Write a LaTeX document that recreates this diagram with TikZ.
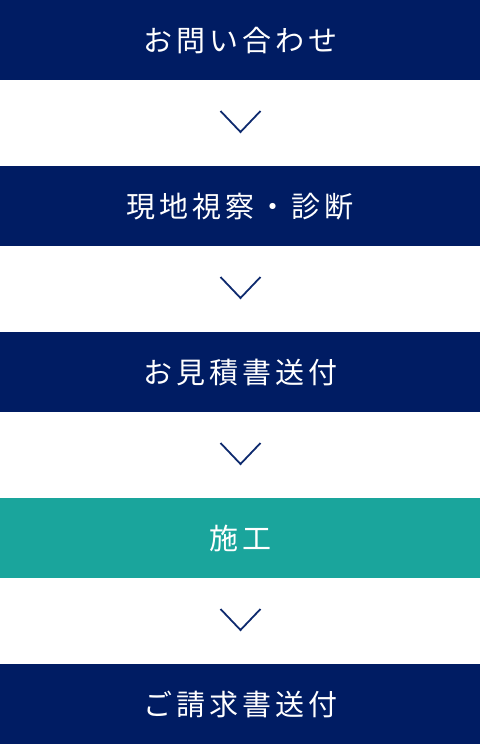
\documentclass[tikz,border=0pt]{standalone}
\usepackage{fontspec}
\newfontfamily\jp[LetterSpace=14]{Noto Sans CJK JP}
\definecolor{navy}{HTML}{001C63}
\definecolor{teal}{HTML}{1AA59C}
\definecolor{chev}{HTML}{0E2A6E}
\begin{document}
\begin{tikzpicture}[x=1pt,y=-1pt,
  bar/.style={fill=#1,draw=none,minimum width=480pt,minimum height=80pt,inner sep=0pt,anchor=north west,
    text=white,font=\jp\fontsize{29}{34}\selectfont},
  bar/.default=navy,
  chevron/.style={draw=chev,line width=1.8pt}]
\useasboundingbox (0,0) rectangle (480,744);
\node[bar] (b1) at (0,0) {お問い合わせ};
\node[bar] (b2) at (0,166) {現地視察・診断};
\node[bar] (b3) at (0,332) {お見積書送付};
\node[bar=teal] (b4) at (0,498) {施工};
\node[bar] (b5) at (0,664) {ご請求書送付};
\foreach \y/\n in {111/1,277/2,443/3,609/4}{
  \coordinate (l\n) at (220.5,\y);
  \coordinate (m\n) at (240.5,\y+21);
  \coordinate (r\n) at (260.5,\y);
  \draw[chevron] (l\n) -- (m\n) -- (r\n);
}
\end{tikzpicture}
\end{document}
